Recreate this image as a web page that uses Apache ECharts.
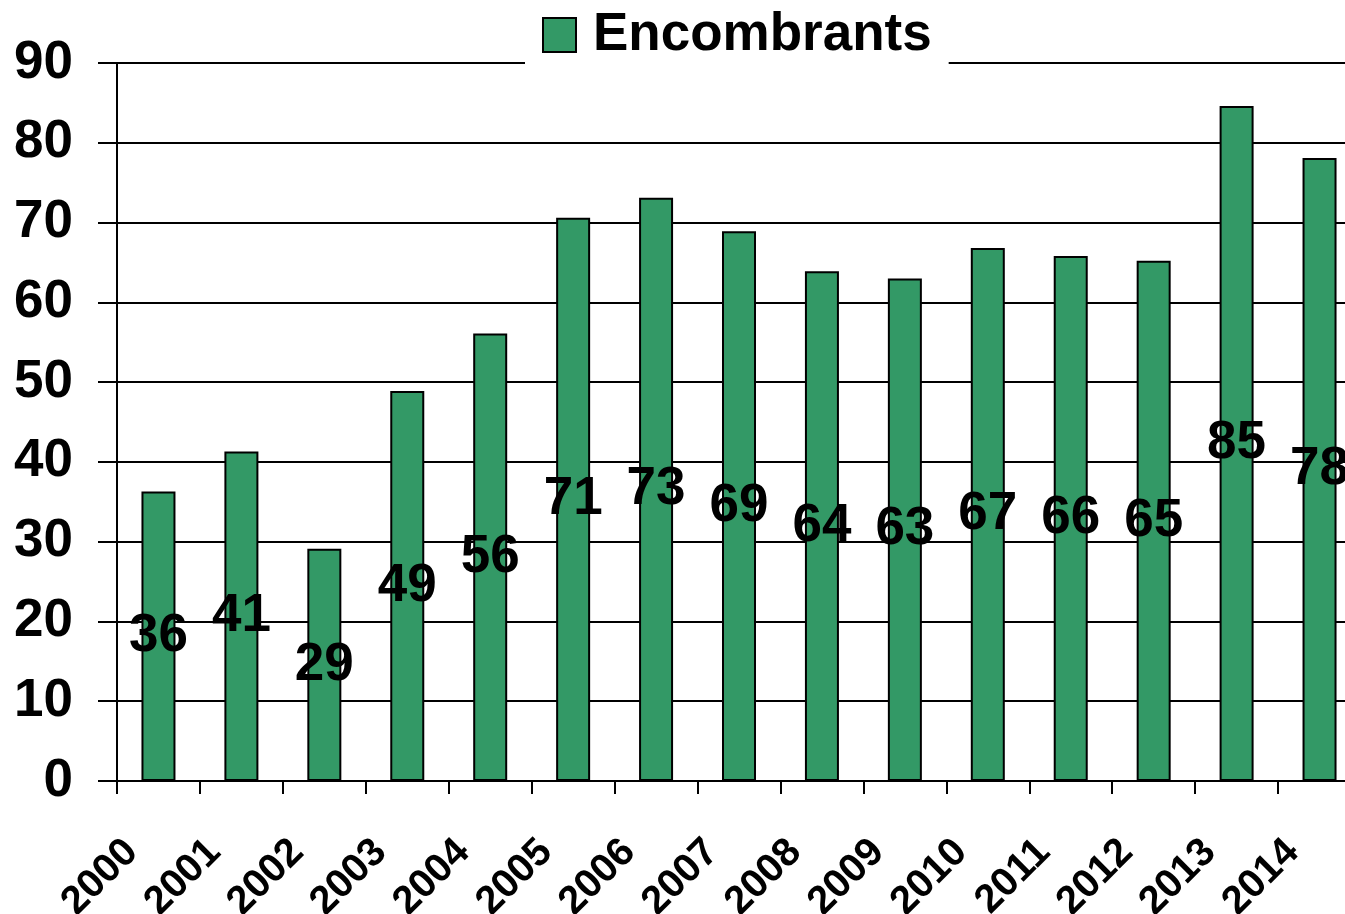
<!DOCTYPE html>
<html>
<head>
<meta charset="utf-8">
<script src="https://cdn.jsdelivr.net/npm/echarts@6/dist/echarts.min.js"></script>
<style>
  html, body { margin: 0; padding: 0; background: #fff; }
  #chart { width: 1345px; height: 914px; }
</style>
</head>
<body>
<div id="chart"></div>
<script>
// années et tonnages
var years = ['2000', '2001', '2002', '2003', '2004', '2005', '2006', '2007',
  '2008', '2009', '2010', '2011', '2012', '2013', '2014'];
var encombrants = [36.3, 41.3, 29.1, 48.9, 56.1, 70.6, 73.1, 68.9,
  63.9, 63.0, 66.8, 65.8, 65.2, 84.6, 78.1];

var font = '"Liberation Sans", Arial, sans-serif';

var chart = echarts.init(document.getElementById('chart'));
var option = {
  backgroundColor: '#fff',
  animation: false,
  legend: {
    data: ['Encombrants'],
    left: 525,
    top: 2,
    padding: [3, 17, 3, 17],
    backgroundColor: '#fff',
    itemWidth: 33,
    itemHeight: 34,
    itemGap: 10,
    icon: 'rect',
    textStyle: {
      fontFamily: font,
      fontWeight: 'bold',
      fontSize: 53,
      lineHeight: 60,
      color: '#000',
      padding: [0, 0, 0, 12]
    }
  },
  grid: {
    left: 117,
    top: 63,
    bottom: 133,
    width: 1244,
    containLabel: false,
    outerBoundsMode: 'none'
  },
  xAxis: {
    type: 'category',
    data: years,
    axisLine: { lineStyle: { color: '#000', width: 2 } },
    axisTick: { show: true, length: 13, lineStyle: { color: '#000', width: 2 } },
    axisLabel: {
      rotate: 45,
      margin: 38,
      padding: [0, 38, 0, 0],
      fontFamily: font,
      fontWeight: 'bold',
      fontSize: 40,
      color: '#000'
    }
  },
  yAxis: {
    type: 'value',
    min: 0,
    max: 90,
    interval: 10,
    axisLine: { show: true, lineStyle: { color: '#000', width: 2 } },
    axisTick: { show: true, length: 19, lineStyle: { color: '#000', width: 2 } },
    splitLine: { lineStyle: { color: '#000', width: 2 } },
    axisLabel: {
      margin: 44,
      fontFamily: font,
      fontWeight: 'bold',
      fontSize: 53,
      color: '#000'
    }
  },
  series: [
    {
      name: 'Encombrants',
      type: 'bar',
      data: encombrants,
      barWidth: 34,
      itemStyle: {
        color: '#339966',
        borderColor: '#000',
        borderWidth: 2
      },
      label: {
        show: true,
        position: 'inside',
        fontFamily: font,
        fontWeight: 'bold',
        fontSize: 53,
        color: '#000',
        formatter: function (p) {
          return Math.round(p.value);
        }
      }
    }
  ]
};
chart.setOption(option);
</script>
</body>
</html>
